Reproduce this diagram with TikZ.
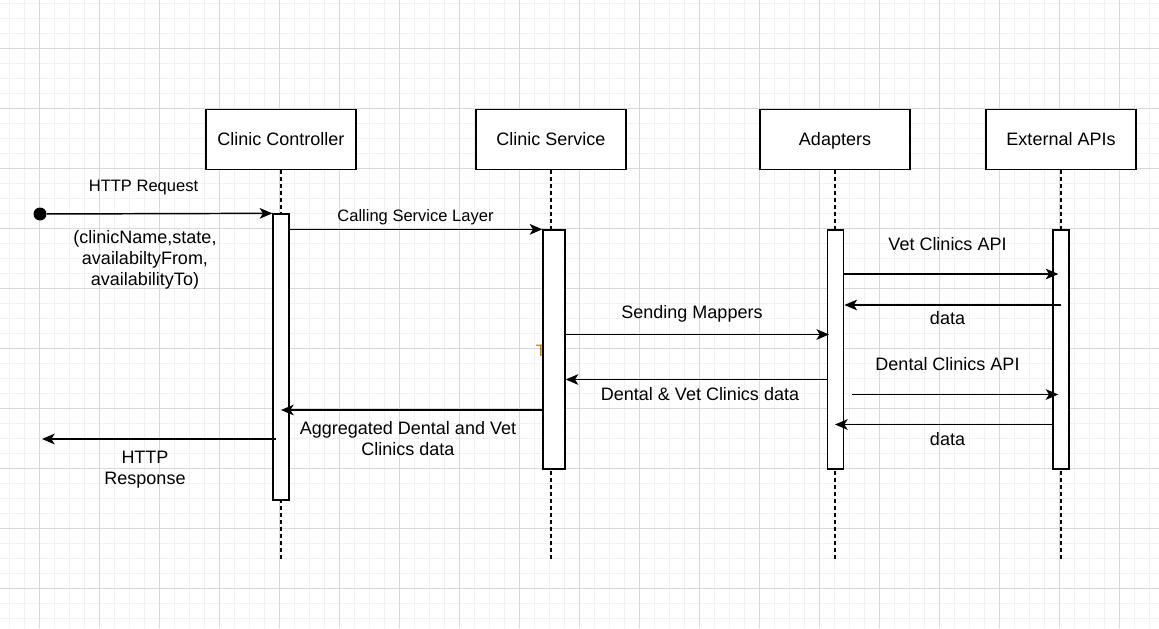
\documentclass[tikz,border=0pt]{standalone}
\usepackage{fontspec}
\setmainfont{Liberation Sans}
\usetikzlibrary{arrows.meta}

\definecolor{gridlight}{HTML}{F1F1F1}
\definecolor{griddark}{HTML}{D8D8D8}
\definecolor{strayorange}{HTML}{CC7A00}

\tikzset{
  actor/.style={draw, fill=white, line width=1pt, minimum width=112.5pt, minimum height=45pt,
    inner sep=0pt, text height=9.7pt, text depth=0pt, font=\fontsize{13.5pt}{15.75pt}\selectfont},
  bar/.style={draw, fill=white, line width=1pt, inner sep=0pt, minimum width=12pt},
  lifeline/.style={line width=1pt, dash pattern=on 3pt off 2.25pt},
  msg/.style={line width=1.1pt, -{Stealth[length=9.5pt,width=8pt,inset=2.5pt]}},
  lbl/.style={inner sep=0pt, text height=9.7pt, text depth=0pt, font=\fontsize{13.5pt}{15.75pt}\selectfont},
  lblsmall/.style={lbl, text height=8.9pt, font=\fontsize{12.4pt}{15pt}\selectfont},
  lblmulti/.style={inner sep=0pt, align=center, font=\fontsize{13.5pt}{15.75pt}\selectfont},
  startdot/.style={circle, fill=black, inner sep=0pt, minimum size=9.75pt},
}

\begin{document}
\begin{tikzpicture}[x=0.75pt, y=-0.75pt]

  \useasboundingbox (0,0) rectangle (1159,628);

  % background grid
  \foreach \gx in {9,24,...,1159} \draw[gridlight, line width=0.75pt] (\gx,0) -- (\gx,628);
  \foreach \gy in {3,18,...,628} \draw[gridlight, line width=0.75pt] (0,\gy) -- (1159,\gy);
  \foreach \gx in {39,99,...,1159} \draw[griddark, line width=0.75pt] (\gx,0) -- (\gx,628);
  \foreach \gy in {48,108,...,628} \draw[griddark, line width=0.75pt] (0,\gy) -- (1159,\gy);

  % participants
  \node[actor] (ctrl) at (281,139.5) {Clinic Controller};
  \node[actor] (svc)  at (551,139.5) {Clinic Service};
  \node[actor] (adp)  at (835,139.5) {Adapters};
  \node[actor] (ext)  at (1061,139.5) {External APIs};

  % lifelines
  \coordinate (lifeend) at (0,560);
  \foreach \p in {ctrl,svc,adp,ext}
    \draw[lifeline] (\p.south) -- (\p |- lifeend);

  \node[inner sep=0pt, text=strayorange, font=\fontsize{12.4pt}{15pt}\selectfont] (stray) at (541,351) {T};

  % activation bars
  \node[bar, minimum height=214.5pt] (ctrlbar) at (281,357) {};
  \node[bar, minimum width=16.5pt, minimum height=179.25pt] (svcbar) at (554,349.5) {};
  \node[bar, minimum height=179.25pt] (adpbar) at (835.75,349.5) {};
  \node[bar, minimum height=179.25pt] (extbar) at (1061,349.5) {};

  % request from client
  \node[startdot] (src) at (40,214) {};
  \draw[msg] (src) -- (ctrlbar.north west);
  \node[lblsmall] (reqlbl) at (143.5,186) {HTTP Request};
  \node[lblmulti] (params) at (145,259.5) {(clinicName,state,\\availabiltyFrom,\\availabilityTo)};

  % controller -> service
  \draw[msg] (ctrlbar.east |- svcbar.north) -- (svcbar.north west);
  \node[lblsmall] (calllbl) at (415.5,216) {Calling Service Layer};

  % adapters <-> external APIs
  \coordinate (vetrow) at (0,274);
  \coordinate (vetback) at (0,305);
  \coordinate (dentrow) at (0,394.5);
  \coordinate (dentback) at (0,424.5);
  \draw[msg, shorten >=-4.5pt] (adpbar.east |- vetrow) -- (extbar.west |- vetrow);
  \draw[msg] (ext |- vetback) -- (adpbar.east |- vetback);
  \draw[msg, shorten <=5.5pt, shorten >=-4.5pt] (adpbar.east |- dentrow) -- (extbar.west |- dentrow);
  \draw[msg] (extbar.west |- dentback) -- (adp |- dentback);
  \node[lbl] (vetlbl) at (947.5,244) {Vet Clinics API};
  \node[lbl] (data1) at (947.5,318.5) {data};
  \node[lbl] (dentlbl) at (947.5,364) {Dental Clinics API};
  \node[lbl] (data2) at (947.5,439) {data};

  % service <-> adapters
  \coordinate (maprow) at (0,334.5);
  \coordinate (dvrow) at (0,379.5);
  \draw[msg, shorten >=-1.5pt] (svcbar.east |- maprow) -- (adpbar.west |- maprow);
  \draw[msg] (adpbar.west |- dvrow) -- (svcbar.east |- dvrow);
  \node[lbl] (maplbl) at (692,312) {Sending Mappers};
  \node[lbl] (dvlbl) at (700,394) {Dental \& Vet Clinics data};

  % back to controller and client
  \coordinate (aggrow) at (0,410);
  \coordinate (client) at (42,439);
  \draw[msg] (svcbar.west |- aggrow) -- (ctrl |- aggrow);
  \draw[msg, shorten <=3.75pt] (ctrl |- client) -- (client);
  \node[lblmulti] (agglbl) at (408,439) {Aggregated Dental and Vet\\Clinics data};
  \node[lblmulti] (resplbl) at (145,469.5) {HTTP\\Response};

\end{tikzpicture}
\end{document}
